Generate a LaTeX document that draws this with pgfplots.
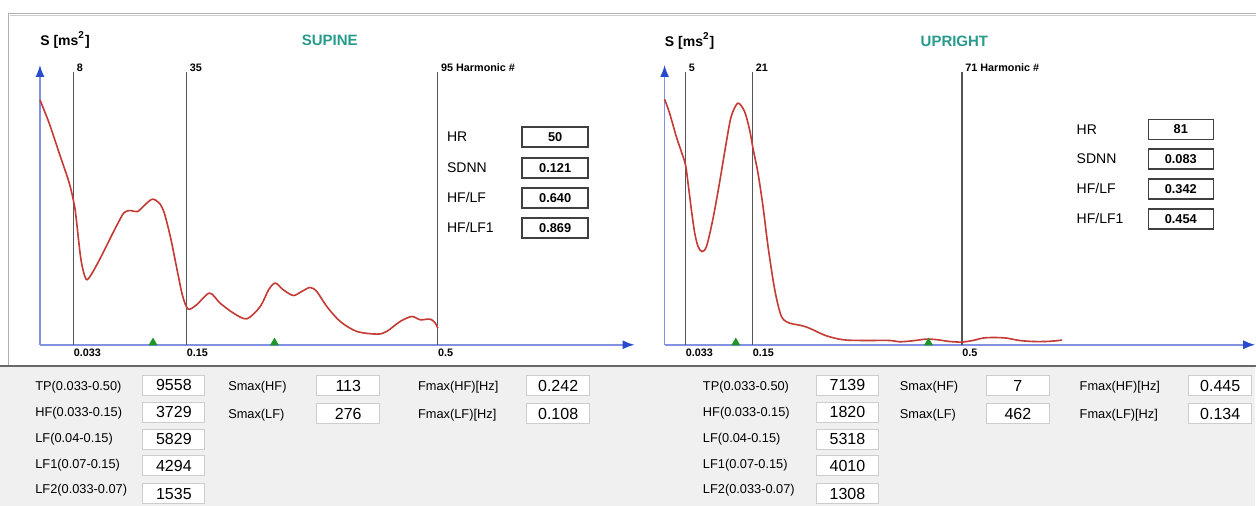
\documentclass[border=0pt]{standalone}
\usepackage{fontspec}
\setmainfont{Liberation Sans}
\usepackage{pgfplots}
\usepackage{pgfplotstable}
\pgfplotsset{compat=1.18}
\usetikzlibrary{arrows.meta}
\definecolor{curvered}{RGB}{196,58,52}
\definecolor{axisline}{RGB}{130,145,225}
\definecolor{arrowblue}{RGB}{40,75,205}
\definecolor{vline}{RGB}{85,85,85}
\definecolor{tri}{RGB}{30,150,40}
\definecolor{titleteal}{RGB}{40,155,140}
\definecolor{bggray}{RGB}{240,240,240}
\definecolor{boxedge}{RGB}{205,205,205}
\definecolor{panelgray}{RGB}{175,175,175}
\definecolor{darkline}{RGB}{105,105,105}

\newcommand\tickfont{\fontsize{5.4}{6}\selectfont\bfseries}
\newcommand\infofont{\fontsize{7}{8}\selectfont}
\newcommand\infoval{\fontsize{6.4}{7}\selectfont\bfseries}
\newcommand\lblfont{\fontsize{6.4}{7}\selectfont}
\newcommand\valfont{\fontsize{8}{9}\selectfont}

% harmonic number h, spectral value v (pixel-scaled amplitude)
\pgfplotstableread{
h v
0 245
2.2 221.7
4.6 191.7
7.0 161.7
8.2 140
8.6 128.3
9.8 85
11.0 65.7
12.2 70
14.2 85
15.8 98.3
18.2 118.3
20.1 132.3
21.7 134.3
23.3 133.3
25.3 141
26.9 145.7
28.5 141.7
29.7 131.7
31.3 105
32.9 71.7
34.1 48.3
35.4 35.7
37.4 40
40.5 51.7
43.0 41.7
46.2 31.7
49.4 26
52.6 38.3
54.6 55
56.2 61.7
58.1 55
60.5 49.3
62.5 53.3
64.5 57.3
66.1 53.3
68.5 38.3
71.7 23.3
75.7 13.3
80.5 10.7
82.8 13.3
86.0 23.3
88.8 28.3
90.8 25
93.2 25.7
94.4 21.7
95.0 16.7
}\supine

\pgfplotstableread{
h v
0 245.7
1.2 231.7
2.8 208.3
4.0 193.3
5.0 180
5.6 161.7
6.4 135
7.2 111.7
8.0 98.3
8.9 93.3
10.0 98.3
11.5 125
13.1 161.7
14.7 201.7
15.9 228.3
17.5 241.7
19.1 233.3
20.3 215
21.1 196.7
22.3 171.7
23.5 138.3
24.7 98.3
26.3 55
27.9 28.3
29.8 21.7
31.8 20
33.7 18
35.4 15
38.6 9
42.6 5
47.3 4.3
53.7 4.3
56.1 3
59.3 4
62.5 5.7
65.2 5
68.0 3.3
71.0 2.7
73.6 4.3
76.0 6.7
78.4 7.3
81.6 6.7
84.7 4.3
87.9 3.3
91.1 3.3
93.5 4
94.9 4.7
}\upright

\pgfplotsset{hrvaxis/.style={
  scale only axis, height=140pt, anchor=south west,
  xmin=0, ymin=0, ymax=280,
  axis lines=left,
  axis line style={draw=axisline, line width=0.8pt},
  x axis line style={-{Latex[length=6pt,width=4.5pt,color=arrowblue]}},
  y axis line style={-{Latex[length=6pt,width=4.5pt,color=arrowblue]}},
  ytick=\empty, major tick length=0pt,
  xticklabel style={anchor=north west, inner sep=0pt, yshift=-2pt, font=\tickfont},
  clip=false,
}}

\begin{document}
\begin{tikzpicture}
\begin{scope}[x=0.5pt,y=-0.5pt]
\path[use as bounding box] (0,0) rectangle (1256,506);
\fill[white] (0,0) rectangle (1256,506);
\fill[bggray] (0,366) rectangle (1256,506);
\draw[panelgray, line width=0.8pt] (8.5,365) -- (8.5,13.5) -- (1260,13.5);
\draw[boxedge, line width=0.5pt] (10,15.5) -- (1260,15.5);
\draw[darkline, line width=1pt] (0,366) -- (1260,366);
\end{scope}

% SUPINE
\begin{axis}[hrvaxis, at={(20pt,-172.5pt)}, width=297.5pt, xmax=142,
  xtick={8,35,95}, xticklabels={\textbf{0.033},\textbf{0.15},\textbf{0.5}}]
\addplot[vline, line width=0.6pt] coordinates {(8,0) (8,273)};
\addplot[vline, line width=0.6pt] coordinates {(35,0) (35,273)};
\addplot[vline, line width=0.6pt] coordinates {(95,0) (95,273)};
\addplot[curvered, line width=0.8pt, smooth] table[x=h,y=v]{\supine};
\addplot[only marks, mark=triangle*, mark size=2.2pt, tri] coordinates {(27,2) (56,2)};
\node[anchor=south west, inner sep=0pt, xshift=1.5pt, font=\tickfont] at (axis cs:8,273) {8};
\node[anchor=south west, inner sep=0pt, xshift=1.5pt, font=\tickfont] at (axis cs:35,273) {35};
\node[anchor=south west, inner sep=0pt, xshift=1.5pt, font=\tickfont] at (axis cs:95,273) {95 Harmonic \#};
\end{axis}

% UPRIGHT
\begin{axis}[hrvaxis, at={(332.5pt,-172.5pt)}, width=295.5pt, xmax=141,
  xtick={5,21,71}, xticklabels={\textbf{0.033},\textbf{0.15},\textbf{0.5}}]
\addplot[vline, line width=0.6pt] coordinates {(5,0) (5,273)};
\addplot[vline, line width=0.6pt] coordinates {(21,0) (21,273)};
\addplot[vline, line width=0.6pt] coordinates {(71,0) (71,273)};
\addplot[curvered, line width=0.8pt, smooth] table[x=h,y=v]{\upright};
\addplot[only marks, mark=triangle*, mark size=2.2pt, tri] coordinates {(17,2) (63,2)};
\node[anchor=south west, inner sep=0pt, xshift=1.5pt, font=\tickfont] at (axis cs:5,273) {5};
\node[anchor=south west, inner sep=0pt, xshift=1.5pt, font=\tickfont] at (axis cs:21,273) {21};
\node[anchor=south west, inner sep=0pt, xshift=1.5pt, font=\tickfont] at (axis cs:71,273) {71 Harmonic \#};
\end{axis}

\begin{scope}[x=0.5pt,y=-0.5pt]
% headings
\node[anchor=west, inner sep=0pt, font=\fontsize{7}{8}\selectfont\bfseries] at (40,40) {S [ms\textsuperscript{2}]};
\node[anchor=west, inner sep=0pt, font=\fontsize{7}{8}\selectfont\bfseries] at (665,41) {S [ms\textsuperscript{2}]};
\node[inner sep=0pt, text=titleteal, font=\fontsize{7.5}{8}\selectfont\bfseries] at (330,40) {SUPINE};
\node[inner sep=0pt, text=titleteal, font=\fontsize{7.5}{8}\selectfont\bfseries] at (955,41) {UPRIGHT};

% info boxes left
\foreach \lab/\val/\y in {HR/50/137, SDNN/0.121/168, HF\slash LF/0.640/198, HF\slash LF1/0.869/228}{
  \node[anchor=west, inner sep=0pt, font=\infofont] at (447,\y) {\lab};
  \node[draw=black!75, line width=0.7pt, minimum width=33pt, minimum height=10pt, inner sep=0pt, font=\infoval] at (555.5,\y) {\val};
}
% info boxes right
\foreach \lab/\val/\y in {HR/81/129.5, SDNN/0.083/159, HF\slash LF/0.342/189, HF\slash LF1/0.454/219}{
  \node[anchor=west, inner sep=0pt, font=\infofont] at (1077,\y) {\lab};
  \node[draw=black!75, line width=0.7pt, minimum width=32.5pt, minimum height=10pt, inner sep=0pt, font=\infoval] at (1181.5,\y) {\val};
}

% bottom panel left
\foreach \lab/\val/\ly/\by in {TP(0.033-0.50)/9558/387/385.5, HF(0.033-0.15)/3729/413/412.5, LF(0.04-0.15)/5829/439/439.5, LF1(0.07-0.15)/4294/465/466, LF2(0.033-0.07)/1535/491/494}{
  \node[anchor=west, inner sep=0pt, font=\lblfont] at (35,\ly) {\lab};
  \node[draw=boxedge, fill=white, line width=0.5pt, minimum width=31pt, minimum height=10pt, inner sep=0pt, font=\valfont] at (174,\by) {\val};
}
\foreach \lab/\val/\ly/\by in {TP(0.033-0.50)/7139/387/385.5, HF(0.033-0.15)/1820/413/412.5, LF(0.04-0.15)/5318/439/439.5, LF1(0.07-0.15)/4010/465/466, LF2(0.033-0.07)/1308/491/494}{
  \node[anchor=west, inner sep=0pt, font=\lblfont] at (703,\ly) {\lab};
  \node[draw=boxedge, fill=white, line width=0.5pt, minimum width=31pt, minimum height=10pt, inner sep=0pt, font=\valfont] at (848,\by) {\val};
}
% Smax / Fmax columns
\foreach \x/\bx/\lab/\val/\y in {228/348.5/Smax(HF)/113/386, 228/348.5/Smax(LF)/276/414,
  418/558.5/Fmax(HF)[Hz]/0.242/386, 418/558.5/Fmax(LF)[Hz]/0.108/414,
  900/1018.5/Smax(HF)/7/386, 900/1018.5/Smax(LF)/462/414,
  1080/1221/Fmax(HF)[Hz]/0.445/386, 1080/1221/Fmax(LF)[Hz]/0.134/414}{
  \node[anchor=west, inner sep=0pt, font=\lblfont] at (\x,\y+1) {\lab};
  \node[draw=boxedge, fill=white, line width=0.5pt, minimum width=31.5pt, minimum height=10pt, inner sep=0pt, font=\valfont] at (\bx,\y) {\val};
}
\end{scope}
\end{tikzpicture}
\end{document}
